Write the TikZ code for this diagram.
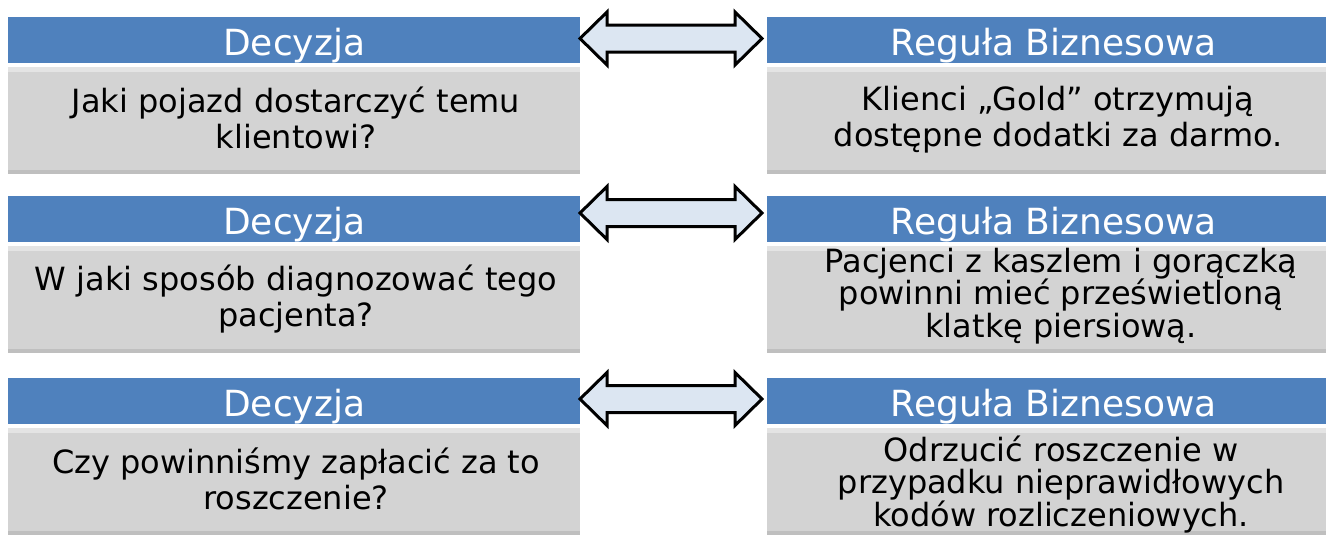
\documentclass[tikz,border=0pt]{standalone}
\usepackage{fontspec}
\setmainfont{DejaVu Sans}
\definecolor{hdrblue}{HTML}{4F81BD}
\definecolor{boxgray}{HTML}{D3D3D3}
\definecolor{boxlight}{HTML}{E4E4E4}
\definecolor{boxdark}{HTML}{BFBFBF}
\definecolor{arrowfill}{HTML}{DCE6F2}
\newcommand{\dblarrow}[1]{\draw[barrow] (580,#1) -- (607,#1-26.5) -- (607,#1-13.5) -- (735,#1-13.5) -- (735,#1-26.5) -- (762,#1) -- (735,#1+26.5) -- (735,#1+13.5) -- (607,#1+13.5) -- (607,#1+26.5) -- cycle;}
\begin{document}
\begin{tikzpicture}[x=1pt,y=-1pt,
  hdr/.style={fill=hdrblue, text=white, font=\fontsize{36}{40}\selectfont,
    minimum height=46pt, inner sep=0pt, text height=30pt, text depth=0pt, anchor=north west},
  lefthdr/.style={hdr, minimum width=572pt},
  righthdr/.style={hdr, minimum width=573pt},
  bodybox/.style={fill=boxgray, inner sep=0pt, minimum height=107pt, anchor=north west},
  leftbody/.style={bodybox, minimum width=572pt},
  rightbody/.style={bodybox, minimum width=573pt},
  bodytxt/.style={align=center, text=black, inner sep=0pt, anchor=base},
  twoline/.style={bodytxt, font=\fontsize{32}{36.5}\selectfont},
  threeline/.style={bodytxt, font=\fontsize{32}{32.5}\selectfont},
  barrow/.style={draw=black, fill=arrowfill, line width=3pt, line join=miter}]
\useasboundingbox (0,0) rectangle (1326,536);
% row 1
\node[lefthdr] (d1) at (8,17) {Decyzja};
\node[righthdr] (r1) at (767,17) {Reguła Biznesowa};
\node[leftbody] (bd1) at (8,67) {};
\node[rightbody] (br1) at (767,67) {};
% row 2
\node[lefthdr] (d2) at (8,196) {Decyzja};
\node[righthdr] (r2) at (767,196) {Reguła Biznesowa};
\node[leftbody] (bd2) at (8,246) {};
\node[rightbody] (br2) at (767,246) {};
% row 3
\node[lefthdr] (d3) at (8,378) {Decyzja};
\node[righthdr] (r3) at (767,378) {Reguła Biznesowa};
\node[leftbody] (bd3) at (8,428) {};
\node[rightbody] (br3) at (767,428) {};
% strips
\foreach \b in {bd1,br1,bd2,br2,bd3,br3}{
  \fill[boxlight] (\b.north west) rectangle ([yshift=-5pt]\b.north east);
  \fill[boxdark] ([yshift=4pt]\b.south west) rectangle (\b.south east);
}
% texts (anchor base = baseline of last line)
\node[twoline] (td1) at (296,148.5) {Jaki pojazd dostarczyć temu\\klientowi?};
\node[twoline] (tr1) at (1058,146.5) {Klienci „Gold” otrzymują\\dostępne dodatki za darmo.};
\node[twoline] (td2) at (296,326.5) {W jaki sposób diagnozować tego\\pacjenta?};
\node[threeline] (tr2) at (1061,337) {Pacjenci z kaszlem i gorączką\\powinni mieć prześwietloną\\klatkę piersiową.};
\node[twoline] (td3) at (296,509.5) {Czy powinniśmy zapłacić za to\\roszczenie?};
\node[threeline] (tr3) at (1061,526) {Odrzucić roszczenie w\\przypadku nieprawidłowych\\kodów rozliczeniowych.};
% arrows
\dblarrow{38.5}
\dblarrow{213}
\dblarrow{399}
\end{tikzpicture}
\end{document}
